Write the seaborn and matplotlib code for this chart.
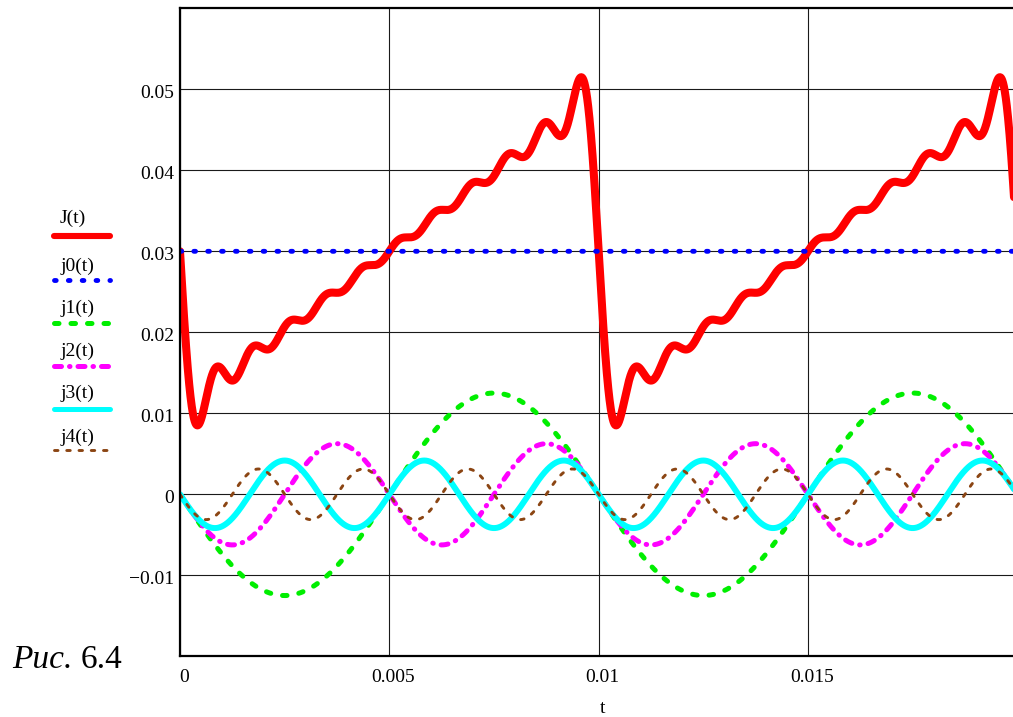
import numpy as np
import matplotlib
matplotlib.use("Agg")
import matplotlib.pyplot as plt
import seaborn as sns
from matplotlib.lines import Line2D
from matplotlib.transforms import ScaledTranslation

# ---- data: Fourier decomposition of a sawtooth current (fundamental 100 Hz) ----
fundamental_hz = 100.0
dc_component = 0.03                                   # j0(t)
harmonic_numbers = [1, 2, 3, 4, 5, 6, 7, 8, 9, 10, 11]
harmonic_amplitudes = [0.0125, 0.00625, 0.00417, 0.003125, 0.0025, 0.00208,
                       0.00179, 0.00156, 0.00139, 0.00125, 0.00114]
series_labels = ["J(t)", "j0(t)", "j1(t)", "j2(t)", "j3(t)", "j4(t)"]
t_limits = [0.0, 0.02]
j_limits = [-0.02, 0.06]
x_ticks = [0.0, 0.005, 0.01, 0.015]
x_tick_labels = ["0", "0.005", "0.01", "0.015"]
y_ticks = [-0.01, 0.0, 0.01, 0.02, 0.03, 0.04, 0.05]
y_tick_labels = ["\u22120.01", "0", "0.01", "0.02", "0.03", "0.04", "0.05"]
axis_label = "t"
caption_italic = "Рис."
caption_number = "6.4"

# ---- evaluate the traces on a fine time grid ----
t = np.linspace(t_limits[0], t_limits[1], 4001)
omega = 2 * np.pi * fundamental_hz
components = [-a * np.sin(k * omega * t) for k, a in zip(harmonic_numbers, harmonic_amplitudes)]
j0 = np.full_like(t, dc_component)
J = j0 + np.sum(components, axis=0)
traces = [J, j0, components[0], components[1], components[2], components[3]]

# ---- styles ----
styles = [
    dict(color="#ff0000", linewidth=5.8, linestyle="-"),
    dict(color="#0000ff", linewidth=3.5, linestyle=(0, (0.35, 2.5))),
    dict(color="#00ee00", linewidth=3.6, linestyle=(0, (0.9, 2.4))),
    dict(color="#ff00ff", linewidth=3.6, linestyle=(0, (1.4, 1.6, 0.1, 1.6))),
    dict(color="#00ffff", linewidth=4.3, linestyle="-"),
    dict(color="#8b4513", linewidth=2.1, linestyle=(0, (1.2, 3.0))),
]
legend_widths = [4.4, 3.5, 3.6, 3.6, 3.6, 2.1]

W, H = 1013, 717
sns.set_theme(style="white")
plt.rcParams["font.family"] = ["Liberation Serif", "DejaVu Serif"]
plt.rcParams["axes.unicode_minus"] = True

fig = plt.figure(figsize=(W / 100, H / 100), dpi=100, facecolor="white")
ax = fig.add_axes([180 / W, 1 - 656.3 / H, 837.3 / W, 648 / H])
ax.set_facecolor("white")

for y, st in zip(traces, styles):
    sns.lineplot(x=t, y=y, ax=ax, estimator=None, sort=False,
                 dash_capstyle="round", solid_capstyle="round",
                 solid_joinstyle="round", **st)

ax.set_xlim(*t_limits)
ax.set_ylim(*j_limits)
ax.set_xticks(x_ticks)
ax.set_xticklabels(x_tick_labels)
ax.set_yticks(y_ticks)
ax.set_yticklabels(y_tick_labels)
ax.tick_params(axis="both", length=0, labelsize=14, colors="black")
ax.tick_params(axis="x", pad=9)
ax.tick_params(axis="y", pad=4)
ax.grid(True, color="#1a1a1a", linewidth=0.8)
ax.set_axisbelow(True)
for side in ("left", "top", "bottom"):
    ax.spines[side].set_visible(True)
    ax.spines[side].set_color("black")
    ax.spines[side].set_linewidth(1.6)
ax.spines["right"].set_visible(False)

# small nudges of the tick labels
for lab in ax.get_xticklabels():
    lab.set_transform(lab.get_transform() + ScaledTranslation(0.04, 0, fig.dpi_scale_trans))
for lab in ax.get_yticklabels():
    lab.set_transform(lab.get_transform() + ScaledTranslation(0, -0.025, fig.dpi_scale_trans))

ax.set_xlabel(axis_label, fontsize=14, color="black")
ax.xaxis.label.set_va("baseline")
ax.xaxis.set_label_coords((603 - 180) / 837.3, -(713 - 656.3) / 648)

# ---- legend: label above a short sample of each trace ----
label_baselines = [223, 271, 313, 356, 398, 442]
sample_rows = [236, 280, 323, 366, 409, 450]
for lab, st, lw, yb, yl in zip(series_labels, styles, legend_widths, label_baselines, sample_rows):
    fig.text(60 / W, 1 - yb / H, lab, fontsize=14, ha="left", va="baseline", color="black")
    fig.add_artist(Line2D([54 / W, 110 / W], [1 - yl / H, 1 - yl / H], transform=fig.transFigure,
                          color=st["color"], linewidth=lw, linestyle=st["linestyle"],
                          dash_capstyle="round", solid_capstyle="round"))

# ---- figure caption: italic word followed by the upright number ----
cap1 = fig.text(12 / W, 1 - 668 / H, caption_italic, fontsize=24, style="italic",
                ha="left", va="baseline", color="black")
fig.canvas.draw()
x_end = cap1.get_window_extent(renderer=fig.canvas.get_renderer()).x1
fig.text((x_end + 8) / W, 1 - 668 / H, caption_number, fontsize=24,
         ha="left", va="baseline", color="black")

fig.savefig("out.png", dpi=100, facecolor="white")
